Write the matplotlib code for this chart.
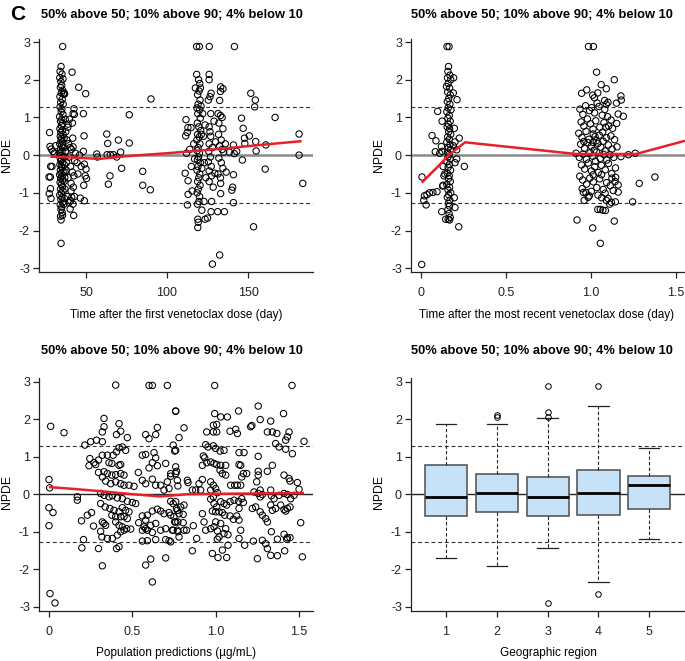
import matplotlib
matplotlib.use("Agg")
import matplotlib.pyplot as plt

plt.rcParams['font.family'] = ['Liberation Sans', 'DejaVu Sans']

# ---------------- data ----------------
title_text = "50% above 50; 10% above 90; 4% below 10"
npde_ticks = [-3, -2, -1, 0, 1, 2, 3]
npde_ticklabels = ["-3", "-2", "-1", "0", "1", "2", "3"]
ref_lines = [-1.28, 1.28]

# Panel 1: time after first dose (day) vs NPDE
p1_points = [
    (27.5, 0.60), (27.8, 0.23), (28.6, 0.16), (29.0, -0.30), (28.2, -0.30), (27.2, -0.58), (28.0, -0.58),
    (28.1, -0.89), (27.3, -1.02), (28.4, -1.15), (31.3, 0.25), (30.5, 0.05), (29.5, 0.10),
    (35.6, 2.88), (34.6, 2.35), (34.0, 2.22), (35.2, 2.15), (33.8, 2.05), (35.8, 2.02), (34.5, 1.95),
    (35.0, 1.85), (34.2, 1.80), (35.6, 1.72), (34.8, 1.65), (36.0, 1.62), (33.9, 1.55), (35.3, 1.48),
    (34.4, 1.40), (35.9, 1.35), (34.0, 1.28), (35.1, 1.22), (34.7, 1.15), (35.8, 1.08), (33.7, 1.02),
    (35.0, 0.95), (34.3, 0.90), (35.6, 0.84), (34.8, 0.78), (33.9, 0.70), (35.3, 0.66), (34.5, 0.60),
    (35.9, 0.55), (34.1, 0.50), (35.0, 0.45), (34.6, 0.40), (35.5, 0.35), (33.8, 0.30), (34.9, 0.25),
    (35.7, 0.20), (34.3, 0.15), (35.2, 0.10), (33.6, 0.05), (34.7, 0.00), (35.8, -0.04), (34.1, -0.08),
    (35.0, -0.12), (34.5, -0.16), (35.6, -0.20), (33.9, -0.25), (34.8, -0.30), (35.3, -0.34), (34.2, -0.40),
    (35.9, -0.44), (34.6, -0.48), (33.7, -0.52), (35.1, -0.57), (34.4, -0.62), (35.7, -0.66), (34.0, -0.72),
    (34.9, -0.78), (35.4, -0.84), (34.3, -0.90), (35.8, -0.95), (34.7, -1.00), (33.8, -1.06), (35.2, -1.12),
    (34.5, -1.18), (35.6, -1.25), (34.1, -1.32), (35.0, -1.38), (34.6, -1.44), (35.3, -1.52), (34.3, -1.62),
    (34.6, -1.72), (35.5, -1.60), (34.6, -2.34),
    (36.5, 1.65), (36.8, 1.62), (37.2, 0.95), (36.5, 0.45), (36.8, 0.20), (37.0, -0.05), (36.6, -0.25),
    (37.1, -0.45), (36.4, -0.70), (37.0, -0.90), (36.7, -1.15), (36.3, -1.30), (36.9, -0.60), (37.3, 0.10),
    (37.5, 0.62),
    (38.9, 0.82), (38.8, 0.74), (40.2, 0.20), (41.0, 0.15), (42.0, 0.22), (41.8, 0.45), (42.6, 1.23),
    (42.0, 1.10), (42.8, 1.08), (41.4, 2.20), (39.5, -0.05), (38.0, -0.20), (40.5, -0.30), (41.5, -0.45),
    (42.5, -0.55), (39.0, -0.60), (40.8, -0.75), (42.2, -0.85), (41.2, -1.12), (40.5, -1.21), (40.2, -1.43),
    (42.0, -1.30), (42.4, -1.60), (38.5, -1.10), (37.8, -0.40), (43.0, -0.15), (43.5, 0.05), (38.2, 0.40),
    (39.8, 0.95), (41.6, 0.85), (39.2, 0.30), (40.8, -0.95), (39.5, -1.25), (42.8, -1.10),
    (45.5, 1.80), (49.8, 1.63), (48.4, 1.10), (48.8, 0.51), (46.0, 0.00), (48.4, 0.10), (49.0, -0.24),
    (50.0, -0.37), (47.0, -0.30), (48.6, -0.80), (49.5, -0.55), (50.3, -0.62), (46.5, -1.14), (49.0, -1.21),
    (45.0, -0.50), (44.5, -0.20),
    (56.6, 0.03), (57.0, -0.05), (62.8, 0.56), (63.4, 0.31), (63.0, 0.01), (65.0, 0.01), (63.8, -0.77),
    (64.8, -0.55), (66.9, 0.01), (70.0, 0.40), (71.4, 0.08), (72.0, -0.35), (69.0, -0.05), (76.7, 1.07),
    (76.7, 0.32), (85.0, -0.43), (85.0, -0.80), (90.1, 1.49), (89.7, -0.92),
    (118.3, 2.88), (120.0, 2.88), (118.3, 2.14), (119.5, 2.00), (120.2, 1.90), (120.6, 1.78), (117.5, 1.78),
    (119.8, 1.70), (118.9, 1.60), (120.4, 1.46), (119.2, 1.35), (118.5, 1.25), (120.1, 1.20), (119.0, 1.10),
    (120.5, 0.98), (118.7, 0.85), (119.6, 0.75), (120.8, 0.65), (118.9, 0.55), (119.9, 0.48), (118.4, 0.40),
    (120.3, 0.30), (119.2, 0.20), (118.6, 0.12), (120.0, 0.05), (119.4, -0.05), (118.8, -0.12), (120.6, -0.20),
    (119.1, -0.30), (118.5, -0.40), (120.2, -0.50), (119.6, -0.60), (118.9, -0.70), (120.4, -0.80),
    (119.3, -0.90), (118.6, -1.00), (120.1, -1.10), (119.7, -1.23), (118.8, -1.30), (119.0, -1.70),
    (119.3, -1.78), (119.0, -1.92), (121.2, 0.55), (121.5, -0.35), (121.0, 1.30),
    (111.7, 0.94), (112.9, 0.73), (114.8, 0.73), (111.5, 0.51), (112.5, 0.60), (112.0, 0.05), (111.2, -0.48),
    (113.0, -0.68), (115.0, -0.30), (113.0, -1.04), (112.6, -1.32), (115.5, -0.95), (116.5, 0.30),
    (117.0, -0.10), (114.0, 0.15),
    (122.8, -1.23), (123.5, -1.70), (121.5, -1.46), (122.5, 0.50), (123.0, -0.20), (123.5, 0.80),
    (122.0, 1.10), (124.0, -0.60),
    (126.1, 2.88), (126.0, 2.14), (126.0, 2.00), (127.2, 1.64), (126.5, 1.55), (125.5, 1.46), (127.0, 1.10),
    (126.0, 0.75), (126.5, 0.62), (127.0, 0.50), (126.0, 0.30), (125.8, 0.10), (126.8, -0.05), (125.5, -0.18),
    (127.3, -0.30), (126.0, -0.42), (127.5, -0.55), (126.0, -0.70), (125.0, -1.67), (127.2, -1.50),
    (127.5, -1.23), (128.0, -2.89), (128.5, -0.85), (128.0, 0.20), (129.5, -0.48), (130.0, 0.35), (129.0, 0.90),
    (133.1, 1.81), (134.5, 1.76), (133.0, 1.69), (132.5, 1.45), (131.5, 1.10), (133.0, 1.05), (134.0, 1.00),
    (132.0, 0.85), (134.5, 0.70), (131.8, 0.55), (133.5, 0.40), (132.5, 0.25), (134.0, 0.15), (135.0, 0.08),
    (132.0, -0.08), (133.5, -0.20), (134.5, -0.35), (131.5, -0.50), (133.0, -0.60), (133.1, -0.75),
    (133.1, -1.02), (131.3, -1.50), (135.4, -1.50), (132.5, -2.65), (136.5, -0.45), (136.0, 0.30),
    (141.6, 2.88), (146.0, 0.98), (147.0, 0.71), (147.8, 0.45), (148.0, 0.31), (150.8, 0.51), (141.0, 0.27),
    (141.5, 0.04), (140.0, -0.93), (140.5, -0.85), (141.0, -0.52), (141.0, -1.26), (146.5, -0.13),
    (151.7, 1.64), (154.5, 1.46), (154.1, 1.28), (154.7, 0.36), (155.0, 0.11), (153.4, -1.90), (160.6, -0.37),
    (161.0, 0.27), (166.7, 1.00), (181.5, 0.56), (181.5, 0.00), (183.8, -0.75), (138.5, 0.08), (143.0, 0.10),
]
p1_smooth_x = [28, 40, 58, 80, 100, 120, 141, 160, 183]
p1_smooth_y = [-0.04, -0.06, -0.10, -0.01, 0.05, 0.12, 0.20, 0.28, 0.37]

# Panel 2: time after most recent dose (day) vs NPDE
p2_points = [
    (0.006, -0.58), (0.004, -2.90), (0.020, -1.08), (0.016, -1.20), (0.030, -1.32), (0.035, -1.05),
    (0.050, -1.00), (0.070, -0.99), (0.094, -0.97), (0.065, 0.52), (0.088, 0.38), (0.098, 1.16),
    (0.124, 0.90), (0.120, 0.23), (0.084, 0.09), (0.110, 0.05), (0.127, -0.82), (0.130, -0.80),
    (0.122, -1.50), (0.140, -0.50), (0.135, -0.55), (0.130, -0.30), (0.125, 0.10),
    (0.153, 2.88), (0.165, 2.88), (0.162, 2.35), (0.158, 2.22), (0.170, 2.12), (0.156, 2.05), (0.175, 2.00),
    (0.160, 1.90), (0.150, 1.82), (0.168, 1.78), (0.157, 1.67), (0.172, 1.60), (0.163, 1.50), (0.155, 1.42),
    (0.170, 1.35), (0.160, 1.25), (0.176, 1.20), (0.152, 1.15), (0.166, 1.05), (0.158, 0.98), (0.172, 0.90),
    (0.161, 0.82), (0.154, 0.75), (0.168, 0.70), (0.163, 0.62), (0.175, 0.55), (0.157, 0.48), (0.166, 0.42),
    (0.152, 0.35), (0.170, 0.28), (0.161, 0.20), (0.174, 0.15), (0.156, 0.08), (0.165, 0.02), (0.159, -0.05),
    (0.171, -0.10), (0.153, -0.18), (0.167, -0.25), (0.160, -0.32), (0.174, -0.40), (0.155, -0.48),
    (0.166, -0.55), (0.162, -0.62), (0.172, -0.70), (0.152, -0.78), (0.168, -0.85), (0.159, -0.92),
    (0.175, -1.00), (0.163, -1.05), (0.155, -1.12), (0.170, -1.20), (0.161, -1.28), (0.167, -1.35),
    (0.158, -1.45), (0.165, -1.55), (0.172, -1.65), (0.160, -1.70), (0.168, -1.72), (0.145, -1.70),
    (0.196, -1.13), (0.200, -1.39), (0.222, -1.90), (0.225, 0.45), (0.212, 1.47), (0.192, 2.05),
    (0.196, 0.71), (0.255, -0.30), (0.210, 0.14), (0.190, 0.25), (0.200, -0.20), (0.190, 1.65),
    (0.200, 0.35), (0.210, -0.10),
    (0.985, 2.88), (1.014, 2.88), (1.033, 2.20), (1.060, 1.87), (1.090, 1.76), (1.137, 2.00), (0.945, 1.64),
    (0.975, 1.73), (1.010, 1.59), (1.020, 1.52), (1.040, 1.65), (1.176, 1.57), (1.178, 1.46), (1.150, 1.38),
    (1.080, 1.45), (1.090, 1.35), (1.100, 1.40), (1.160, 1.09), (1.190, 1.03), (0.912, 0.05), (1.153, 0.22),
    (1.176, -0.04), (1.220, 0.01), (1.260, 0.05), (1.160, -0.79), (1.160, -0.98), (1.145, -0.59),
    (1.143, -1.24), (1.245, -1.24), (1.284, -0.75), (1.376, -0.58), (0.918, -1.72), (1.010, -1.93),
    (1.055, -2.34), (1.137, -1.75), (1.040, -1.44), (1.055, -1.44), (1.070, -1.46), (1.085, -1.47),
    (0.955, -0.99), (0.970, -0.99), (0.960, -1.20), (0.990, -1.08), (1.100, -1.15), (1.120, -1.25),
    (1.110, -1.30), (1.090, -1.20),
    (0.935, 1.22), (0.952, 1.08), (0.968, 1.31), (0.991, 1.18), (1.004, 1.26), (1.021, 1.12), (1.047, 1.29),
    (1.066, 1.06), (1.098, 1.02), (1.118, 0.93), (1.081, 1.21), (1.036, 1.38),
    (0.942, 0.88), (0.958, 0.77), (0.979, 0.96), (0.997, 0.83), (1.028, 0.91), (1.052, 0.74), (1.076, 0.86),
    (1.104, 0.77), (1.127, 0.71), (1.151, 0.84), (1.086, 0.74), (1.012, 0.69),
    (0.928, 0.58), (0.947, 0.47), (0.971, 0.63), (0.988, 0.42), (1.013, 0.56), (1.031, 0.38), (1.049, 0.53),
    (1.069, 0.61), (1.091, 0.46), (1.117, 0.51), (1.139, 0.41), (0.958, 0.36), (1.024, 0.49),
    (0.939, 0.29), (0.962, 0.18), (0.982, 0.33), (1.002, 0.24), (1.018, 0.13), (1.041, 0.31), (1.058, 0.21),
    (1.083, 0.11), (1.102, 0.27), (1.124, 0.16), (1.012, 0.34), (1.072, 0.37),
    (0.931, -0.06), (0.953, 0.03), (0.973, -0.11), (0.994, 0.06), (1.011, -0.03), (1.033, 0.08),
    (1.054, -0.09), (1.074, 0.02), (1.093, -0.13), (1.112, 0.01), (1.134, -0.06), (1.026, -0.16),
    (0.944, -0.26), (0.963, -0.37), (0.984, -0.21), (1.003, -0.42), (1.022, -0.31), (1.043, -0.46),
    (1.061, -0.27), (1.084, -0.39), (1.103, -0.22), (1.122, -0.49), (1.144, -0.34), (1.013, -0.52),
    (0.934, -0.56), (0.951, -0.66), (0.974, -0.77), (0.993, -0.61), (1.014, -0.71), (1.034, -0.86),
    (1.051, -0.63), (1.072, -0.91), (1.092, -0.73), (1.113, -0.81), (1.131, -0.94), (1.062, -0.52),
    (0.948, -0.89), (1.002, -0.96), (1.041, -1.06), (1.063, -1.13), (1.083, -1.01), (1.123, -0.61),
    (1.142, -0.70), (0.983, -1.12),
]
p2_smooth_x = [0.004, 0.098, 0.163, 0.259, 0.912, 1.265, 1.553]
p2_smooth_y = [-0.73, -0.31, 0.00, 0.34, 0.03, 0.03, 0.38]

# Panel 3: population predictions (ug/mL) vs NPDE
p3_points = [
    (0.40, 2.91), (0.60, 2.90), (0.62, 2.90), (0.71, 2.90), (0.01, 1.81), (0.09, 1.64),
    (0.33, 2.02), (0.33, 1.80), (0.32, 1.66), (0.42, 1.88), (0.43, 1.68), (0.405, 1.59), (0.47, 1.51),
    (0.65, 1.78), (0.64, 1.59), (0.58, 1.59), (0.60, 1.48), (0.76, 2.21),
    (0.215, 1.31), (0.25, 1.40), (0.285, 1.44), (0.32, 1.40), (0.42, 1.24), (0.44, 1.26), (0.46, 1.17),
    (0.405, 1.13), (0.385, 1.04), (0.35, 1.04), (0.32, 1.04), (0.297, 0.91), (0.27, 0.84), (0.245, 0.95),
    (0.24, 0.76), (0.28, 0.79), (0.36, 0.84), (0.377, 0.82), (0.42, 0.77), (0.43, 0.79),
    (0.33, 0.60), (0.35, 0.55), (0.377, 0.51), (0.40, 0.52), (0.43, 0.55), (0.45, 0.51),
    (0.297, 0.58), (0.32, 0.46), (0.34, 0.35), (0.37, 0.28), (0.40, 0.33), (0.43, 0.28), (0.45, 0.24),
    (0.48, 0.24), (0.51, 0.21), (0.536, 0.58), (0.56, 1.04), (0.58, 1.06),
    (0.63, 1.11), (0.64, 0.97), (0.62, 0.84), (0.65, 0.76), (0.60, 0.70), (0.70, 0.82), (0.73, 0.55),
    (0.71, 0.33), (0.76, 0.55), (0.76, 0.73), (0.56, 0.37), (0.58, 0.28), (0.62, 0.40), (0.64, 0.24),
    (0.67, 0.24), (0.69, 0.11), (0.72, 0.15), (0.76, 1.17),
    (0.17, -0.07), (0.17, -0.16), (0.0, 0.39), (0.004, 0.17), (0.0, -0.36), (0.024, -0.49), (0.0, -0.84),
    (0.006, -2.65), (0.036, -2.90), (0.195, -0.71), (0.23, -0.56), (0.255, -0.49), (0.267, -0.85),
    (0.207, -1.21), (0.197, -1.43), (0.32, -0.74), (0.33, -0.78), (0.34, -0.83),
    (0.31, -0.99), (0.317, -1.14), (0.35, -1.18), (0.38, -1.18), (0.41, -1.09), (0.43, -1.00), (0.45, -0.96),
    (0.297, -1.45), (0.405, -1.45), (0.42, -1.40), (0.32, -1.91),
    (0.31, 0.02), (0.33, -0.03), (0.36, -0.07), (0.38, -0.04), (0.41, -0.10), (0.44, -0.12), (0.47, -0.19),
    (0.50, -0.22), (0.52, -0.25), (0.31, -0.25), (0.337, -0.34), (0.365, -0.38), (0.39, -0.43),
    (0.42, -0.47), (0.44, -0.36), (0.46, -0.43), (0.48, -0.47), (0.377, -0.56), (0.40, -0.60),
    (0.43, -0.60), (0.45, -0.60), (0.47, -0.65), (0.40, -0.74), (0.42, -0.83), (0.44, -0.87),
    (0.466, -0.92), (0.49, -0.93), (0.538, -0.76), (0.57, -0.87), (0.59, -0.96), (0.56, -0.96),
    (0.58, -0.92), (0.56, -1.25), (0.59, -1.24), (0.59, -0.56), (0.62, -0.45), (0.65, -0.40), (0.67, -0.45),
    (0.69, -0.52), (0.72, -0.49), (0.56, -0.58), (0.58, -0.69), (0.61, -0.83), (0.64, -0.78), (0.62, -1.02),
    (0.67, -0.96), (0.70, -0.92), (0.74, -0.96), (0.64, -1.21), (0.70, -1.21), (0.72, -1.24),
    (0.61, -1.73), (0.58, -1.89), (0.62, -2.34), (0.70, -1.70), (0.76, -0.20), (0.77, -0.43), (0.76, -0.74),
    (0.77, -0.96),
    (0.994, 2.90), (1.458, 2.90), (0.76, 2.22), (0.81, 1.77), (0.78, 1.51), (0.745, 1.31), (0.754, 1.15),
    (0.994, 2.15), (1.03, 2.06), (1.07, 2.06), (1.137, 2.22), (1.255, 2.35), (1.267, 1.99), (1.217, 1.83),
    (1.21, 1.80), (1.33, 1.95), (1.407, 2.15), (1.12, 1.73), (1.13, 1.62), (1.086, 1.68),
    (0.986, 1.84), (1.006, 1.86), (0.986, 1.66), (1.006, 1.66), (0.946, 1.66), (1.31, 1.66), (1.34, 1.66),
    (1.367, 1.62), (1.44, 1.66), (1.43, 1.53), (1.42, 1.44), (1.36, 1.35), (1.38, 1.26), (1.42, 1.20),
    (1.46, 1.08), (1.53, 1.41), (0.94, 1.32), (0.954, 1.26), (0.986, 1.29), (1.0, 1.22), (1.026, 1.15),
    (1.05, 1.17), (1.14, 1.11), (1.17, 1.11), (1.255, 1.01), (0.926, 1.02), (0.934, 0.97), (0.92, 0.77),
    (0.946, 0.84), (0.97, 0.86), (0.99, 0.82), (1.006, 0.79), (1.03, 0.77), (1.06, 0.77), (1.026, 0.64),
    (1.04, 0.55), (1.06, 0.51), (1.14, 0.79), (1.15, 0.77), (1.166, 0.55), (1.186, 0.55), (1.156, 0.46),
    (1.255, 0.61), (1.255, 0.51), (1.246, 0.33), (1.31, 0.61), (1.34, 0.77), (1.41, 0.51), (1.44, 0.42),
    (1.446, 0.35), (1.49, 0.31), (0.73, 0.48), (0.765, 0.61), (0.77, 0.37), (0.773, 0.22), (0.83, 0.37),
    (0.834, 0.31), (0.90, 0.28), (0.92, 0.39), (0.86, 0.11), (0.88, 0.11), (0.91, 0.11), (0.97, 0.33),
    (0.986, 0.24), (1.0, 0.15), (0.97, 0.11), (1.01, 0.04), (0.986, -0.07), (1.09, 0.24), (1.114, 0.24),
    (1.13, 0.24), (1.15, 0.24), (1.23, 0.06), (1.255, 0.02), (1.267, 0.11), (1.28, -0.01), (1.267, -0.07),
    (1.33, 0.11), (1.334, -0.04), (1.35, -0.12), (1.38, -0.03), (1.41, 0.02), (1.43, -0.01), (1.45, -0.12),
    (1.47, -0.03), (1.50, 0.13), (0.73, -0.19), (0.745, -0.25), (0.765, -0.38), (0.79, -0.34), (0.81, -0.29),
    (0.73, -0.56), (0.75, -0.60), (0.78, -0.52), (0.805, -0.54), (0.754, -0.74), (0.773, -0.74),
    (0.805, -0.76), (0.745, -0.96), (0.773, -1.00), (0.81, -0.96), (0.825, -0.96), (0.78, -1.14),
    (0.73, -1.27), (0.866, -0.84), (0.886, -1.18), (0.92, -0.52), (0.93, -0.74), (0.94, -0.96),
    (0.97, -0.92), (0.99, -0.87), (1.01, -0.98), (1.0, -0.74), (1.03, -0.78), (0.97, -0.13), (0.99, -0.25),
    (1.006, -0.34), (1.03, -0.20), (1.05, -0.25), (1.066, -0.29), (0.98, -0.45), (1.0, -0.47), (1.02, -0.47),
    (1.04, -0.49), (1.054, -0.56), (1.086, -0.20), (1.11, -0.16), (1.137, -0.19), (1.156, -0.12),
    (1.166, -0.22), (1.14, -0.38), (1.086, -0.58), (1.106, -0.67), (1.126, -0.58), (1.14, -0.69),
    (1.15, -0.96), (1.14, -1.18), (1.174, -1.36), (1.074, -1.36), (1.06, -0.92), (1.074, -1.08),
    (1.05, -1.05), (1.02, -1.14), (1.01, -1.20), (0.98, -1.58), (1.014, -1.69), (1.066, -1.69),
    (1.04, -1.49), (0.86, -1.51), (1.22, -0.38), (1.24, -0.34), (1.267, -0.47), (1.28, -0.56), (1.30, -0.65),
    (1.31, -0.74), (1.226, -1.25), (1.28, -1.23), (1.30, -1.32), (1.31, -1.45), (1.33, -1.63), (1.37, -1.64),
    (1.414, -1.51), (1.25, -1.72), (1.33, -0.29), (1.34, -0.43), (1.36, -0.38), (1.39, -0.29), (1.41, -0.41),
    (1.43, -0.38), (1.446, -0.34), (1.42, -0.45), (1.334, -1.00), (1.37, -1.20), (1.41, -1.07),
    (1.43, -1.16), (1.446, -1.16), (1.426, -1.20), (1.51, -0.76), (1.52, -1.67),
]
p3_smooth_x = [0.0, 0.15, 0.31, 0.50, 0.67, 0.83, 1.00, 1.25, 1.53]
p3_smooth_y = [0.19, 0.14, 0.08, 0.00, -0.06, 0.00, 0.01, 0.02, 0.03]

# Panel 4: box plot by geographic region
regions = [1, 2, 3, 4, 5]
box_whislo = [-1.69, -1.91, -1.44, -2.33, -1.19]
box_q1 = [-0.57, -0.48, -0.57, -0.545, -0.385]
box_med = [-0.066, 0.04, -0.066, 0.04, 0.235]
box_q3 = [0.77, 0.545, 0.465, 0.65, 0.49]
box_whishi = [1.875, 1.87, 2.02, 2.34, 1.24]
box_fliers = [[], [2.05, 2.12], [2.88, 2.20, 2.07, -2.90], [2.89, -2.65], []]

# ---------------- figure ----------------
W, H = 685, 661
fig = plt.figure(figsize=(W / 100, H / 100), dpi=100)


def ax_at(l, r, t, b):
    return fig.add_axes([l / W, 1 - b / H, (r - l) / W, (b - t) / H])


def style(ax, xlim, ylim, xticks, xticklabels):
    ax.set_xlim(*xlim)
    ax.set_ylim(*ylim)
    for s in ['top', 'right']:
        ax.spines[s].set_visible(False)
    for s in ['left', 'bottom']:
        ax.spines[s].set_linewidth(0.9)
        ax.spines[s].set_color('#222222')
    ax.set_yticks(npde_ticks)
    ax.set_yticklabels(npde_ticklabels)
    ax.set_xticks(xticks)
    ax.set_xticklabels(xticklabels)
    ax.tick_params(length=4.5, width=0.9, labelsize=9, colors='#222222')
    ax.tick_params(axis='y', pad=2)
    ax.tick_params(axis='x', pad=6)
    for y in ref_lines:
        ax.axhline(y, color='#333333', lw=0.8, ls=(0, (3.5, 2.5)), zorder=1)


def scatter_panel(ax, pts, sx, sy, zero_color, zero_lw):
    ax.axhline(0, color=zero_color, lw=zero_lw, zorder=1)
    xs = [p[0] for p in pts]
    ys = [p[1] for p in pts]
    ax.scatter(xs, ys, s=21, facecolors='none', edgecolors='black', linewidths=0.75, zorder=2)
    ax.plot(sx, sy, color='#e8202a', lw=1.8, zorder=3, solid_capstyle='butt')


ylim_top = (-3.10, 3.08)
ylim_bot = (-3.115, 3.107)

ax1 = ax_at(39, 313, 39, 272)
style(ax1, (20.99, 190.1), ylim_top, [50, 100, 150], ["50", "100", "150"])
scatter_panel(ax1, p1_points, p1_smooth_x, p1_smooth_y, '#8a8a8a', 1.8)

ax2 = ax_at(411, 685, 39, 272)
style(ax2, (-0.0588, 1.553), ylim_top, [0, 0.5, 1.0, 1.5], ["0", "0.5", "1.0", "1.5"])
scatter_panel(ax2, p2_points, p2_smooth_x, p2_smooth_y, '#8a8a8a', 1.8)

ax3 = ax_at(39, 312.7, 377.7, 611)
style(ax3, (-0.06, 1.582), ylim_bot, [0, 0.5, 1.0, 1.5], ["0", "0.5", "1.0", "1.5"])
scatter_panel(ax3, p3_points, p3_smooth_x, p3_smooth_y, '#222222', 1.0)

ax4 = ax_at(411, 685, 377.7, 611)
style(ax4, (0.311, 5.703), ylim_bot, regions, [str(r) for r in regions])
ax4.axhline(0, color='#222222', lw=1.0, zorder=1)
stats = []
for i in range(len(regions)):
    stats.append(dict(med=box_med[i], q1=box_q1[i], q3=box_q3[i], whislo=box_whislo[i],
                      whishi=box_whishi[i], fliers=box_fliers[i]))
ax4.bxp(stats, positions=regions, widths=0.83, patch_artist=True, manage_ticks=False,
        boxprops=dict(facecolor='#c6e2f8', edgecolor='#5a5a5a', linewidth=1.2),
        medianprops=dict(color='black', linewidth=2.0),
        whiskerprops=dict(color='#222222', linewidth=0.8, linestyle=(0, (3, 2))),
        capprops=dict(color='#222222', linewidth=0.9),
        capwidths=0.4,
        flierprops=dict(marker='o', markersize=4, markerfacecolor='none',
                        markeredgecolor='black', markeredgewidth=0.7),
        zorder=2)

# ---------------- text ----------------
def ftext(x, y, s, **kw):
    fig.text(x / W, 1 - y / H, s, **kw)

ftext(10, 14, "C", fontsize=15, fontweight='bold', ha='left', va='center')
for (cx, cy) in [(172, 15), (542, 15), (172, 351), (542, 351)]:
    ftext(cx, cy, title_text, fontsize=9.3, fontweight='bold', ha='center', va='center')
for (cx, cy) in [(7, 155), (379, 155), (7, 492), (379, 492)]:
    ftext(cx, cy, "NPDE", fontsize=8.8, rotation=90, ha='center', va='center')
ftext(176, 315, "Time after the first venetoclax dose (day)", fontsize=8.5, ha='center', va='center')
ftext(547, 315, "Time after the most recent venetoclax dose (day)", fontsize=8.5, ha='center', va='center')
ftext(176, 653, "Population predictions (\u00b5g/mL)", fontsize=8.5, ha='center', va='center')
ftext(548, 653, "Geographic region", fontsize=8.5, ha='center', va='center')

fig.savefig("out.png", dpi=100)
